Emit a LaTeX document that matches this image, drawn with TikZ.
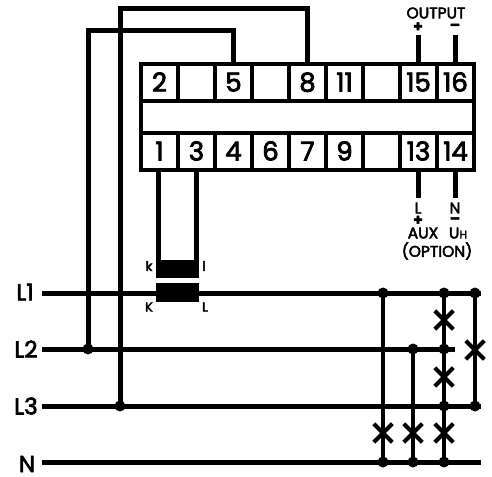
\documentclass[tikz,border=0pt]{standalone}
\usepackage{fontspec}
\setmainfont{Poppins}[FakeBold=3]
\tikzset{
  x=1pt,y=-1pt,
  cell/.style={draw,line width=4.4pt,minimum width=37pt,minimum height=37pt,inner sep=0pt,font=\fontsize{26}{26}\selectfont,text height=18pt,text depth=0pt},
  wire/.style={line width=5pt,line join=miter},
  bus/.style={line width=5pt},
  tap/.style={line width=4pt},
  dotn/.style={circle,fill=black,inner sep=0pt,minimum size=11pt},
  small/.style={inner sep=0pt,font=\fontsize{15.5}{15.5}\selectfont},
  sign/.style={inner sep=0pt,font=\fontsize{15}{15}\selectfont\bfseries},
  tiny/.style={inner sep=0pt,font=\fontsize{13}{13}\selectfont},
  phase/.style={inner sep=0pt,font=\fontsize{23}{23}\selectfont},
  core/.style={fill=black,draw=none,minimum width=43pt,inner sep=0pt},
  crossm/.style={cross out,draw,line width=4pt,minimum size=14.5pt,inner sep=0pt},
}
\usetikzlibrary{shapes.misc}
\begin{document}
\begin{tikzpicture}
\useasboundingbox (0,0) rectangle (492,476);
% terminal block
\foreach \n/\lab/\c in {a/2/0,b//1,c/5/2,d//3,e/8/4,f/11/5,g//6,h/15/7,i/16/8}{
  \node[cell] (t\n) at ({159.5+37*\c},82.5) {\lab};
}
\foreach \n/\lab/\c in {j/1/0,k/3/1,l/4/2,m/6/3,n/7/4,o/9/5,p//6,q/13/7,r/14/8}{
  \node[cell] (t\n) at ({159.5+37*\c},151.5) {\lab};
}
\node[draw,line width=4.4pt,minimum width=333pt,minimum height=32pt,inner sep=0pt] (band) at (307.5,117) {};
% bus ends
\coordinate (l1s) at (42,293); \coordinate (l1e) at (481,293);
\coordinate (l2s) at (42,349); \coordinate (l2e) at (455,349);
\coordinate (l3s) at (42,406); \coordinate (l3e) at (481,406);
\coordinate (ns) at (42,462);  \coordinate (ne) at (481,462);
\draw[bus] (l1s)--(l1e);
\draw[bus] (l2s)--(l2e);
\draw[bus] (l3s)--(l3e);
\draw[bus] (ns)--(ne);
% junction dots
\foreach \n/\x/\y in {ja/88/349,jb/120/406,
  p1/383/293,p2/444/293,p3/475/293,
  p4/413/349,p5/444/349,
  p6/444/406,p7/475/406,
  n1/383/462,n2/413/462,n3/444/462}{
  \node[dotn] (\n) at (\x,\y) {};
}
% current wires
\coordinate (c1) at (88,31); \coordinate (c2) at (120,9);
\draw[wire] (ja.center)--(c1)-|(tc.north);
\draw[wire] (jb.center)--(c2)-|(te.north);
% taps
\draw[tap] (p1.center)--(n1.center);
\draw[tap] (n2.center)--(p4.center);
\draw[tap] (p2.center)--(n3.center);
\draw[tap] (p3.center)--(p7.center);
% fuses
\foreach \n/\x/\y in {x1/444/320,x2/475/350,x3/444/377,x4/383/433,x5/413/433,x6/444/433}{
  \node[crossm] (\n) at (\x,\y) {};
}
% current transformer
\node[core,minimum height=18pt] (ctu) at (177.5,269) {};
\node[core,minimum height=19pt] (ctl) at (177.5,292.5) {};
\draw[line width=5.5pt] ([xshift=-1pt]tj.south) -- ([xshift=-19pt]ctu.center);
\draw[line width=5.5pt] (tk.south) -- ([xshift=19pt]ctu.center);
% output and aux stubs
\coordinate (o1) at (418.5,35); \coordinate (o2) at (455.5,35);
\coordinate (a1) at (418.5,198); \coordinate (a2) at (455.5,198);
\draw[wire] (th.north)--(o1);
\draw[wire] (ti.north)--(o2);
\draw[wire] (tq.south)--(a1);
\draw[wire] (tr.south)--(a2);
% labels
\node[small] (lo) at (436,13) {OUTPUT};
\node[sign] (lp) at (418,27) {+};
\node[sign] (lm) at (455,27) {–};
\node[small] (ll) at (418,208) {L};
\node[small] (ln) at (455,208) {N};
\node[sign] (lp2) at (418,220.5) {+};
\node[sign] (lm2) at (455,220.5) {–};
\node[small] (la) at (423,233) {AUX};
\node[small] (lu) at (458,233) {U\fontsize{11}{11}\selectfont H};
\node[small] (lop) at (437,251) {(OPTION)};
\node[tiny] (ck) at (149,266) {k};
\node[tiny] (cl) at (204,266) {l};
\node[tiny] (cK) at (149,307) {K};
\node[tiny] (cL) at (205,307) {L};
\node[phase] (tl1) at (25,292) {L1};
\node[phase] (tl2) at (26,349) {L2};
\node[phase] (tl3) at (26,406) {L3};
\node[phase] (tn) at (27,464) {N};
\end{tikzpicture}
\end{document}
